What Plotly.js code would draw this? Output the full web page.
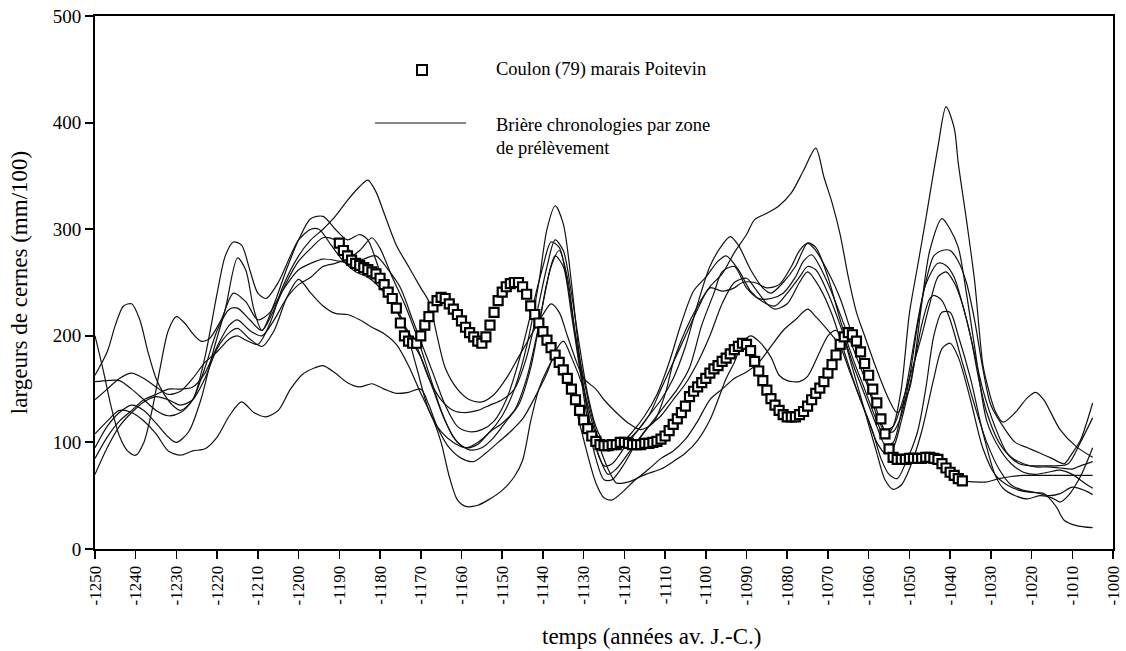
<!DOCTYPE html>
<html>
<head>
<meta charset="utf-8">
<script src="https://cdn.plot.ly/plotly-3.0.1.min.js"></script>
<style>html,body{margin:0;padding:0;background:#fff;}#chart{width:1126px;height:651px;}</style>
</head>
<body>
<div id="chart"></div>
<script>
// ---- tick labels ----
const xTickValues = [-1250,-1240,-1230,-1220,-1210,-1200,-1190,-1180,-1170,-1160,-1150,-1140,-1130,-1120,-1110,-1100,-1090,-1080,-1070,-1060,-1050,-1040,-1030,-1020,-1010,-1000];
const xTickLabels = ["-1250","-1240","-1230","-1220","-1210","-1200","-1190","-1180","-1170","-1160","-1150","-1140","-1130","-1120","-1110","-1100","-1090","-1080","-1070","-1060","-1050","-1040","-1030","-1020","-1010","-1000"];
const yTickValues = [0,100,200,300,400,500];

// ---- Coulon (79) marais Poitevin ----
const coulonYears = [-1190,-1189,-1188,-1187,-1186,-1185,-1184,-1183,-1182,-1181,-1180,-1179,-1178,-1177,-1176,-1175,-1174,-1173,-1172,-1171,-1170,-1169,-1168,-1167,-1166,-1165,-1164,-1163,-1162,-1161,-1160,-1159,-1158,-1157,-1156,-1155,-1154,-1153,-1152,-1151,-1150,-1149,-1148,-1147,-1146,-1145,-1144,-1143,-1142,-1141,-1140,-1139,-1138,-1137,-1136,-1135,-1134,-1133,-1132,-1131,-1130,-1129,-1128,-1127,-1126,-1125,-1124,-1123,-1122,-1121,-1120,-1119,-1118,-1117,-1116,-1115,-1114,-1113,-1112,-1111,-1110,-1109,-1108,-1107,-1106,-1105,-1104,-1103,-1102,-1101,-1100,-1099,-1098,-1097,-1096,-1095,-1094,-1093,-1092,-1091,-1090,-1089,-1088,-1087,-1086,-1085,-1084,-1083,-1082,-1081,-1080,-1079,-1078,-1077,-1076,-1075,-1074,-1073,-1072,-1071,-1070,-1069,-1068,-1067,-1066,-1065,-1064,-1063,-1062,-1061,-1060,-1059,-1058,-1057,-1056,-1055,-1054,-1053,-1052,-1051,-1050,-1049,-1048,-1047,-1046,-1045,-1044,-1043,-1042,-1041,-1040,-1039,-1038,-1037];
const coulonValues = [287,280,275,271,268,266,264,262,260,258,
  254,248,241,235,226,212,200,195,193,193,
  200,210,218,227,233,236,235,230,225,220,
  214,208,203,199,195,193,199,210,222,233,
  241,246,249,250,250,246,239,228,220,212,
  204,196,189,182,175,168,160,150,140,130,
  121,113,106,101,98,97,97,98,98,100,
  100,99,98,98,98,99,99,100,101,103,
  106,111,117,122,128,134,143,148,152,156,
  160,165,169,172,176,179,183,187,190,193,
  192,186,176,167,158,149,141,135,130,126,
  124,124,124,126,129,134,140,146,151,157,
  165,173,182,192,199,203,201,195,185,174,
  163,150,137,122,108,94,86,84,84,84,
  85,85,85,85,86,86,85,84,80,76,
  72,69,66,64];

// ---- Brière chronologies par zone de prélèvement ----
const briereA_years = [-1250,-1247,-1244,-1241,-1238,-1235,-1232,-1230,-1227,-1224,-1221,-1218,-1215,-1213,-1211,-1209,-1206,-1203,-1200,-1197,-1194,-1191,-1188,-1185,-1183,-1180,-1177,-1174,-1171,-1168,-1165,-1162,-1159,-1156,-1153,-1150,-1147,-1144,-1141,-1139,-1137,-1135,-1133,-1131,-1129,-1127,-1125,-1123,-1120,-1117,-1114,-1111,-1108,-1105,-1102,-1099,-1096,-1094,-1092,-1089,-1086,-1084,-1081,-1078,-1075,-1073,-1070,-1067,-1064,-1061,-1058,-1056,-1054,-1052,-1050,-1048,-1046,-1043,-1041,-1039,-1038,-1036,-1034,-1032,-1031,-1029,-1027,-1024,-1021,-1019,-1017,-1013,-1009,-1005];
const briereA_values = [95,115,128,135,130,118,105,100,110,140,185,225,273,262,225,205,230,262,290,310,312,300,290,295,290,260,235,210,170,130,110,100,95,100,110,125,150,190,250,300,322,305,250,180,130,95,78,80,95,110,125,140,160,190,230,265,285,293,285,262,245,240,250,265,287,283,255,215,180,150,120,105,115,150,221,265,309,377,415,395,362,309,252,174,156,130,119,128,142,147,140,112,96,86];

const briereB_years = [-1250,-1247,-1244,-1241,-1238,-1235,-1232,-1229,-1226,-1223,-1220,-1217,-1215,-1213,-1210,-1207,-1204,-1200,-1197,-1194,-1191,-1188,-1185,-1183,-1181,-1179,-1176,-1173,-1170,-1168,-1166,-1164,-1161,-1158,-1155,-1152,-1149,-1146,-1143,-1140,-1138,-1136,-1134,-1132,-1130,-1127,-1125,-1122,-1119,-1116,-1113,-1110,-1108,-1105,-1102,-1099,-1096,-1093,-1090,-1088,-1085,-1082,-1079,-1076,-1073,-1071,-1069,-1067,-1065,-1063,-1061,-1058,-1055,-1053,-1050,-1047,-1045,-1042,-1040,-1038,-1036,-1034,-1031,-1028,-1025,-1022,-1019,-1016,-1013,-1010,-1007,-1005];
const briereB_values = [140,150,160,165,160,152,145,148,160,175,185,197,200,196,192,212,245,275,290,300,312,327,340,346,335,315,285,265,245,232,200,170,150,140,138,145,160,180,200,220,230,222,200,178,160,150,140,128,118,112,118,145,175,205,228,246,258,278,295,309,315,322,334,355,376,349,325,295,255,222,200,168,140,128,150,230,280,310,300,283,240,190,120,95,80,72,70,72,74,70,62,57];

const briereC_years = [-1250,-1247,-1244,-1241,-1238,-1235,-1232,-1229,-1226,-1223,-1220,-1217,-1215,-1212,-1209,-1206,-1203,-1200,-1197,-1194,-1191,-1188,-1185,-1182,-1179,-1176,-1173,-1170,-1167,-1165,-1163,-1161,-1159,-1156,-1153,-1150,-1147,-1145,-1143,-1141,-1139,-1137,-1135,-1133,-1131,-1129,-1127,-1125,-1123,-1120,-1117,-1114,-1111,-1108,-1105,-1102,-1099,-1097,-1095,-1093,-1091,-1089,-1087,-1084,-1082,-1080,-1077,-1075,-1072,-1070,-1068,-1066,-1064,-1061,-1058,-1056,-1054,-1052,-1050,-1047,-1044,-1042,-1040,-1038,-1035,-1032,-1029,-1026,-1023,-1020,-1017,-1014,-1012,-1009,-1005];
const briereC_values = [70,95,115,128,138,143,140,135,140,160,188,203,207,197,190,205,235,253,240,228,221,220,215,208,202,192,172,146,122,100,68,46,40,41,47,55,68,83,120,150,168,180,172,150,118,88,62,48,46,55,66,71,75,82,90,102,121,140,160,175,193,200,195,180,163,158,157,162,185,200,205,195,170,130,90,65,56,60,75,110,160,188,193,180,140,95,70,60,55,53,52,40,27,22,20];

const briereD_years = [-1250,-1248,-1246,-1244,-1242,-1240,-1238,-1236,-1234,-1232,-1230,-1228,-1226,-1224,-1222,-1219,-1216,-1213,-1210,-1207,-1204,-1200,-1197,-1194,-1190,-1187,-1184,-1181,-1178,-1175,-1172,-1170,-1167,-1164,-1161,-1158,-1155,-1152,-1149,-1146,-1143,-1140,-1138,-1136,-1134,-1132,-1130,-1128,-1126,-1124,-1121,-1118,-1115,-1112,-1109,-1106,-1103,-1100,-1097,-1095,-1092,-1089,-1086,-1083,-1080,-1077,-1075,-1073,-1070,-1067,-1064,-1061,-1058,-1056,-1054,-1052,-1050,-1048,-1046,-1043,-1041,-1039,-1037,-1035,-1033,-1031,-1028,-1025,-1022,-1019,-1016,-1013,-1010,-1008,-1005];
const briereD_values = [200,168,133,106,92,88,100,130,170,205,218,212,202,195,197,215,240,232,215,222,242,262,268,272,270,268,272,275,262,245,215,195,165,135,115,110,112,120,140,175,220,265,288,283,250,200,160,125,100,92,98,110,125,145,175,212,242,255,270,275,262,242,232,228,240,255,265,262,240,210,175,145,115,98,100,128,168,213,248,268,266,255,230,200,160,128,100,86,80,77,77,76,75,78,82];

const briereE_years = [-1250,-1247,-1244,-1241,-1238,-1235,-1232,-1229,-1226,-1223,-1220,-1217,-1214,-1211,-1208,-1205,-1202,-1199,-1196,-1194,-1191,-1188,-1185,-1182,-1179,-1176,-1173,-1170,-1168,-1166,-1163,-1160,-1157,-1154,-1151,-1148,-1145,-1142,-1139,-1137,-1135,-1133,-1130,-1128,-1126,-1124,-1122,-1120,-1117,-1114,-1111,-1108,-1105,-1102,-1099,-1096,-1093,-1090,-1087,-1084,-1081,-1078,-1075,-1073,-1070,-1067,-1065,-1062,-1059,-1057,-1055,-1053,-1051,-1048,-1046,-1044,-1042,-1040,-1038,-1035,-1032,-1029,-1027,-1024,-1021,-1018,-1015,-1013,-1011,-1008,-1005];
const briereE_values = [108,120,130,128,120,108,92,88,92,94,105,125,138,128,124,130,150,164,170,172,165,156,152,155,150,146,147,150,135,115,95,85,82,90,100,110,122,142,165,185,195,180,150,120,95,75,62,62,66,75,85,92,103,120,140,150,160,166,175,190,205,215,225,218,205,190,170,140,110,85,70,66,80,110,150,200,222,222,200,160,110,70,57,50,47,50,48,44,50,68,95];

const briereF_years = [-1250,-1247,-1244,-1241,-1238,-1235,-1232,-1229,-1226,-1223,-1220,-1217,-1215,-1212,-1209,-1206,-1203,-1200,-1197,-1194,-1191,-1188,-1185,-1182,-1180,-1177,-1174,-1171,-1168,-1165,-1162,-1159,-1156,-1153,-1150,-1147,-1144,-1141,-1139,-1137,-1135,-1133,-1131,-1129,-1127,-1125,-1123,-1120,-1117,-1114,-1111,-1108,-1105,-1102,-1099,-1096,-1093,-1090,-1088,-1085,-1083,-1080,-1077,-1075,-1072,-1069,-1066,-1063,-1060,-1058,-1056,-1054,-1052,-1049,-1047,-1045,-1044,-1042,-1040,-1037,-1034,-1031,-1028,-1025,-1022,-1019,-1016,-1013,-1010,-1007,-1005];
const briereF_values = [85,105,120,130,140,145,150,150,152,165,190,210,215,205,200,215,235,248,255,265,268,272,280,292,282,255,230,200,165,130,105,95,98,110,118,130,160,210,250,275,265,220,170,120,85,65,65,80,100,115,125,140,155,175,200,230,250,254,245,230,225,230,250,260,245,220,185,150,120,100,90,95,120,170,210,235,238,233,215,175,135,100,75,60,55,53,50,52,58,55,51];

const briereG_years = [-1250,-1247,-1244,-1241,-1238,-1235,-1232,-1229,-1226,-1223,-1220,-1217,-1215,-1212,-1209,-1206,-1203,-1200,-1197,-1194,-1191,-1188,-1185,-1182,-1179,-1176,-1173,-1170,-1167,-1164,-1161,-1158,-1155,-1152,-1149,-1146,-1143,-1140,-1138,-1136,-1134,-1132,-1130,-1128,-1126,-1124,-1122,-1119,-1116,-1113,-1110,-1107,-1104,-1101,-1098,-1096,-1093,-1090,-1087,-1084,-1081,-1078,-1076,-1074,-1072,-1069,-1066,-1063,-1060,-1058,-1056,-1054,-1052,-1050,-1048,-1046,-1044,-1042,-1040,-1038,-1036,-1034,-1032,-1030,-1027,-1024,-1021,-1018,-1015,-1012,-1010,-1008,-1005];
const briereG_values = [157,158,158,150,140,130,125,128,140,170,205,225,226,215,205,225,250,270,282,292,290,282,270,265,255,225,200,180,150,120,100,93,95,105,120,135,170,230,265,280,255,200,150,110,85,70,75,90,105,120,135,150,170,210,240,260,265,245,235,235,240,255,270,276,265,240,210,180,150,125,110,110,125,160,210,250,275,280,280,270,250,215,170,135,115,100,95,90,85,80,90,102,137];

const briereH_years = [-1250,-1247,-1245,-1243,-1241,-1239,-1237,-1235,-1233,-1231,-1229,-1226,-1223,-1220,-1218,-1216,-1214,-1212,-1210,-1208,-1205,-1202,-1200,-1197,-1195,-1192,-1189,-1186,-1183,-1180,-1177,-1174,-1171,-1168,-1165,-1162,-1159,-1156,-1153,-1150,-1147,-1144,-1141,-1139,-1137,-1135,-1133,-1131,-1129,-1127,-1125,-1123,-1120,-1117,-1114,-1111,-1108,-1105,-1102,-1099,-1096,-1093,-1091,-1088,-1085,-1082,-1079,-1077,-1075,-1073,-1070,-1067,-1064,-1061,-1058,-1056,-1054,-1052,-1050,-1047,-1045,-1043,-1041,-1039,-1037,-1035,-1032,-1029,-1026,-1023,-1020,-1017,-1014,-1011,-1008,-1005];
const briereH_values = [163,185,210,228,230,215,185,160,145,135,130,140,180,240,275,288,285,262,240,235,250,275,290,300,300,285,270,260,255,245,230,210,190,160,140,130,128,130,135,140,150,180,230,265,290,280,240,190,145,115,100,98,100,110,125,150,175,200,225,245,242,245,250,250,245,248,265,280,287,280,260,235,200,165,130,112,115,135,160,200,230,255,260,250,230,200,150,115,90,80,78,78,78,80,100,123];

const briereI_years = [-1037,-1034,-1031,-1028,-1025,-1022,-1018,-1014,-1010,-1005];
const briereI_values = [64,63,63,66,68,69,69,69,69,69];

const briereSeries = [
  [briereA_years, briereA_values],
  [briereB_years, briereB_values],
  [briereC_years, briereC_values],
  [briereD_years, briereD_values],
  [briereE_years, briereE_values],
  [briereF_years, briereF_values],
  [briereG_years, briereG_values],
  [briereH_years, briereH_values],
  [briereI_years, briereI_values]
];

const FONT = "Liberation Serif";
const traces = [];
briereSeries.forEach(function (s) {
  traces.push({
    type: 'scatter', mode: 'lines', x: s[0], y: s[1],
    line: {color: '#111', width: 1.2, shape: 'spline', smoothing: 0.8},
    showlegend: false, hoverinfo: 'skip'
  });
});
traces.push({
  type: 'scatter', mode: 'markers', x: coulonYears, y: coulonValues,
  marker: {symbol: 'square', size: 9, color: '#fff', line: {color: '#000', width: 2.2}},
  showlegend: false
});

// legend geometry helpers (paper coordinates)
const L = 95, R = 1113, T = 16, B = 549;
function px(x) { return (x - L) / (R - L); }
function py(y) { return (B - y) / (B - T); }

const layout = {
  width: 1126, height: 651,
  margin: {l: 95, r: 13, t: 16, b: 102},
  paper_bgcolor: '#fff', plot_bgcolor: '#fff',
  font: {family: FONT, size: 17, color: '#000'},
  showlegend: false,
  xaxis: {
    range: [-1250, -1000], tickmode: 'array', tickvals: xTickValues, ticktext: xTickLabels,
    tickangle: -90, ticks: 'outside', ticklen: 8, tickwidth: 1.5, tickcolor: '#000',
    showline: true, linewidth: 2, linecolor: '#000', mirror: true,
    showgrid: false, zeroline: false,
    tickfont: {family: FONT, size: 17, color: '#000'},
    title: {text: ''}
  },
  yaxis: {
    range: [0, 500], tickmode: 'array', tickvals: yTickValues,
    ticks: 'outside', ticklen: 8, tickwidth: 2, tickcolor: '#000',
    showline: true, linewidth: 2, linecolor: '#000', mirror: true,
    showgrid: false, zeroline: false,
    tickfont: {family: FONT, size: 19, color: '#000'},
    title: {text: 'largeurs de cernes (mm/100)', font: {family: FONT, size: 23, color: '#000'}, standoff: 19}
  },
  shapes: [
    {type: 'rect', xref: 'paper', yref: 'paper', x0: px(417), x1: px(427), y0: py(75), y1: py(65),
     line: {color: '#000', width: 2}, fillcolor: '#fff'},
    {type: 'line', xref: 'paper', yref: 'paper', x0: px(375), x1: px(466), y0: py(123), y1: py(123),
     line: {color: '#111', width: 1.2}}
  ],
  annotations: [
    {xref: 'paper', yref: 'paper', x: px(494), y: py(70), xanchor: 'left', yanchor: 'middle', showarrow: false,
     text: 'Coulon (79) marais Poitevin', font: {family: FONT, size: 18.5, color: '#000'}},
    {xref: 'paper', yref: 'paper', x: px(494), y: py(125), xanchor: 'left', yanchor: 'middle', showarrow: false,
     text: 'Brière chronologies par zone', font: {family: FONT, size: 18.5, color: '#000'}},
    {xref: 'paper', yref: 'paper', x: px(494), y: py(148), xanchor: 'left', yanchor: 'middle', showarrow: false,
     text: 'de prélèvement', font: {family: FONT, size: 18.5, color: '#000'}},
    {xref: 'paper', yref: 'paper', x: px(652), y: py(636), xanchor: 'center', yanchor: 'middle', showarrow: false,
     text: 'temps (années av. J.-C.)', font: {family: FONT, size: 23, color: '#000'}}
  ]
};

Plotly.newPlot('chart', traces, layout, {displayModeBar: false, staticPlot: true});
</script>
</body>
</html>
